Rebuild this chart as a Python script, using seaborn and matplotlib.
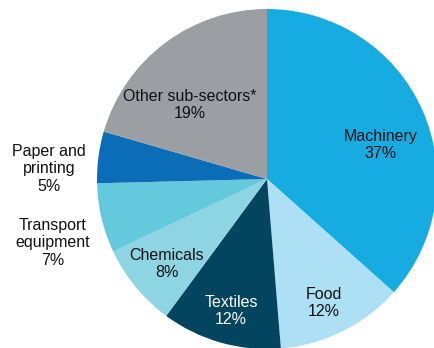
import matplotlib
matplotlib.use("Agg")
import matplotlib.pyplot as plt
import seaborn as sns

# Industry sub-sector shares (wedge sizes)
sectors = ["Machinery", "Food", "Textiles", "Chemicals",
           "Transport\nequipment", "Paper and\nprinting", "Other sub-sectors*"]
shares = [36.6, 12.1, 11.4, 7.9, 6.6, 4.9, 20.5]
pct_labels = ["37%", "12%", "12%", "8%", "7%", "5%", "19%"]
colors = ["#16ACE2", "#ADE0F5", "#03445F", "#8DD5E2", "#64C9DD", "#0B6DB7", "#9B9FA3"]
text_colors = ["#111111", "#111111", "#FFFFFF", "#111111", "#111111", "#111111", "#111111"]

# label anchor points in pixel space (x from left, y from top)
label_xy = [(381, 145), (324, 303), (231, 311), (167, 264),
            (53, 243), (49, 169), (190, 105)]

W, H = 434, 348
sns.set_style("white")
plt.rcParams["font.family"] = ["Liberation Sans", "DejaVu Sans"]

fig = plt.figure(figsize=(W / 100, H / 100), dpi=100)
ax = fig.add_axes([0, 0, 1, 1])
ax.pie(shares, colors=colors, startangle=90, counterclock=False,
       center=(267, H - 179), radius=170,
       wedgeprops=dict(linewidth=0))
ax.set_xlim(0, W)
ax.set_ylim(0, H)
ax.set_aspect("equal")
ax.axis("off")

for name, pct, (x, y), tc in zip(sectors, pct_labels, label_xy, text_colors):
    ax.text(x, H - y, f"{name}\n{pct}", ha="center", va="center",
            fontsize=11.5, color=tc, linespacing=1.2)

fig.savefig("out.png", dpi=100)
plt.close(fig)
